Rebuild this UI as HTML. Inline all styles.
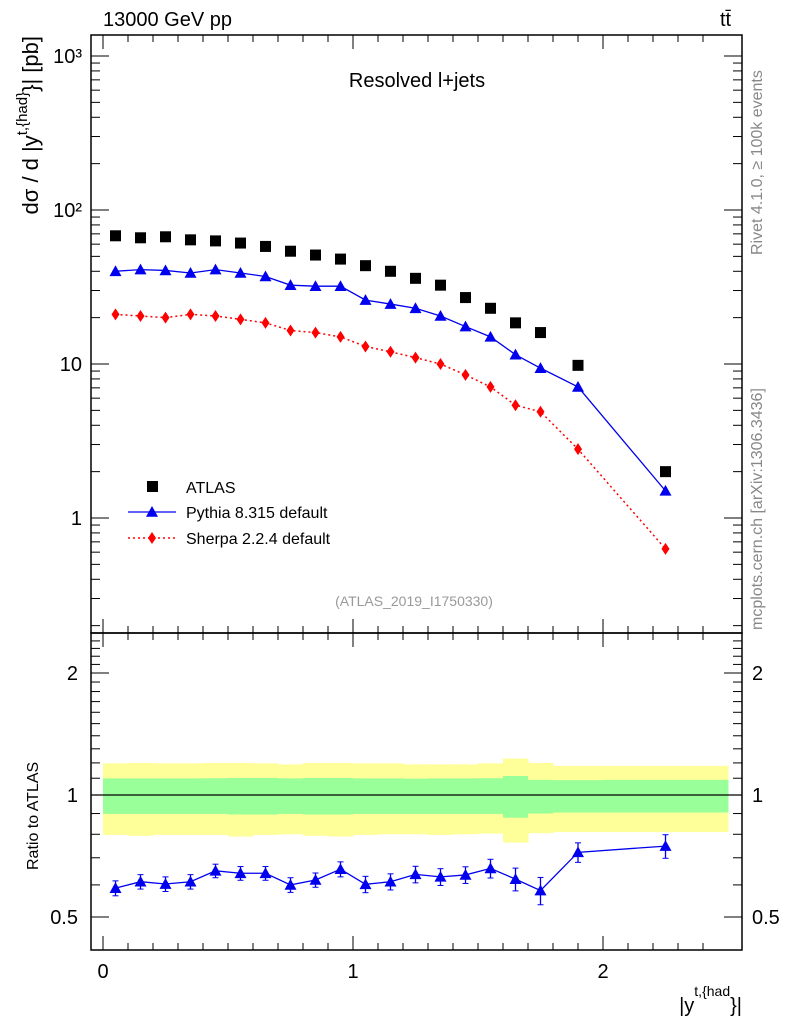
<!DOCTYPE html>
<html><head><meta charset="utf-8"><style>
body{margin:0;background:#fff;}
svg{font-family:"Liberation Sans",sans-serif;}
</style></head><body>
<svg id="c" width="786" height="1024" xmlns="http://www.w3.org/2000/svg"></svg>
<script>
const binLo=[0,0.1,0.2,0.3,0.4,0.5,0.6,0.7,0.8,0.9,1.0,1.1,1.2,1.3,1.4,1.5,1.6,1.7,1.8,2.0];
const binHi=[0.1,0.2,0.3,0.4,0.5,0.6,0.7,0.8,0.9,1.0,1.1,1.2,1.3,1.4,1.5,1.6,1.7,1.8,2.0,2.5];
const atlas=[68,66,67,64,63,61,58,54,51,48,43.5,40,36,32.5,27,23,18.5,16,9.8,2.0];
const pythia=[40,41,40.5,39,41,39,37,32.5,32,32,26,24.5,23,20.5,17.5,15,11.5,9.4,7.1,1.5];
const sherpa=[21,20.5,20,21,20.5,19.5,18.5,16.5,16,15,13,12,11,10,8.5,7.1,5.4,4.9,2.8,0.63];
const ratioP=[0.589,0.611,0.603,0.611,0.650,0.641,0.641,0.600,0.617,0.656,0.602,0.611,0.637,0.628,0.635,0.659,0.620,0.581,0.722,0.748];
const ratioErr=[0.025,0.025,0.025,0.025,0.025,0.025,0.025,0.025,0.025,0.028,0.028,0.028,0.03,0.03,0.03,0.035,0.04,0.045,0.04,0.05];
const greenLo=[0.898,0.898,0.898,0.898,0.898,0.895,0.895,0.898,0.895,0.895,0.898,0.898,0.898,0.898,0.898,0.898,0.879,0.9,0.905,0.905];
const greenHi=[1.099,1.099,1.099,1.099,1.1,1.102,1.102,1.099,1.102,1.102,1.099,1.099,1.097,1.099,1.099,1.1,1.114,1.09,1.088,1.09];
const yelLo=[0.797,0.793,0.797,0.797,0.797,0.79,0.797,0.8,0.793,0.79,0.797,0.8,0.8,0.797,0.8,0.803,0.763,0.805,0.81,0.81];
const yelHi=[1.197,1.2,1.197,1.197,1.2,1.2,1.197,1.19,1.2,1.2,1.197,1.197,1.19,1.19,1.19,1.197,1.23,1.2,1.18,1.18];
const xTicks=[0,1,2];
const mainTicks=[1,10,100,1000];
const mainTickLabels=["1","10","10²","10³"];
const ratioTicks=[0.5,1,2];

const svg=document.getElementById('c');
const NS='http://www.w3.org/2000/svg';
const L=91,R=742,T=35,M=633,B=950;
const X=v=>103+250*v;
const YM=v=>518-154*Math.log10(v);
const YR=v=>795-122*Math.log2(v);
function el(tag,attrs,parent){const e=document.createElementNS(NS,tag);for(const k in attrs)e.setAttribute(k,attrs[k]);(parent||svg).appendChild(e);return e;}
function txt(s,x,y,attrs,parent){const e=el('text',Object.assign({x:x,y:y,'font-size':20},attrs||{}),parent);e.textContent=s;return e;}

const bands=el('g',{});


binLo.forEach((lo,i)=>{
  const y=el('rect',{x:X(lo),y:YR(yelHi[i]),width:X(binHi[i])-X(lo)+0.5,height:YR(yelLo[i])-YR(yelHi[i]),fill:'#ffff99'},bands);
  
  
  const g=el('rect',{x:X(lo),y:YR(greenHi[i]),width:X(binHi[i])-X(lo)+0.5,height:YR(greenLo[i])-YR(greenHi[i]),fill:'#99ff99'},bands);
  
  
});
el('line',{x1:L,x2:R,y1:YR(1),y2:YR(1),stroke:'#000','stroke-width':1.2});

el('rect',{x:L,y:T,width:R-L,height:M-T,fill:'none',stroke:'#000','stroke-width':1.5});
el('rect',{x:L,y:M,width:R-L,height:B-M,fill:'none',stroke:'#000','stroke-width':1.5});

for(let v=0;v<=2.5;v+=0.1){
  const big=Math.abs(v-Math.round(v))<1e-6;const len=big?14:7;
  [T,M].forEach(t=>el('line',{x1:X(v),x2:X(v),y1:t,y2:t+len,stroke:'#000'}));
  [M,B].forEach(b=>el('line',{x1:X(v),x2:X(v),y1:b,y2:b-len,stroke:'#000'}));
}
xTicks.forEach(v=>{const t=txt(String(v),X(v),978,{'text-anchor':'middle'});

});
for(let d=-1;d<=3;d++){for(let m=1;m<10;m++){const v=m*Math.pow(10,d);const y=YM(v);if(y<T||y>M)continue;const len=m==1?18:9;
el('line',{x1:L,x2:L+len,y1:y,y2:y,stroke:'#000'});el('line',{x1:R,x2:R-len,y1:y,y2:y,stroke:'#000'});}}
mainTicks.forEach((v,i)=>{const t=txt(mainTickLabels[i],82,YM(v)+7,{'text-anchor':'end'});

});
for(let v=0.4;v<=2.5;v+=0.1){const y=YR(v);if(y<M||y>B)continue;const big=ratioTicks.some(r=>Math.abs(r-v)<1e-6);const len=big?18:9;
el('line',{x1:L,x2:L+len,y1:y,y2:y,stroke:'#000'});el('line',{x1:R,x2:R-len,y1:y,y2:y,stroke:'#000'});}
ratioTicks.forEach(v=>{const t=txt(String(v),78,YR(v)+7,{'text-anchor':'end'});


const t2=txt(String(v),752,YR(v)+7,{});

});

const cx=i=>X((binLo[i]+binHi[i])/2);
function tri(x,y,s,p){return el('polygon',{points:`${x},${y-s} ${x-s},${y+s*0.8} ${x+s},${y+s*0.8}`,fill:'#0000ee'},p);}
el('polyline',{points:pythia.map((v,i)=>cx(i)+','+YM(v)).join(' '),fill:'none',stroke:'#0000ee','stroke-width':1.3});
el('polyline',{points:sherpa.map((v,i)=>cx(i)+','+YM(v)).join(' '),fill:'none',stroke:'#ff0000','stroke-width':1.5,'stroke-dasharray':'2,3'});
atlas.forEach((v,i)=>{const r=el('rect',{x:cx(i)-5.5,y:YM(v)-5.5,width:11,height:11,fill:'#000'});

});
pythia.forEach((v,i)=>{const p=tri(cx(i),YM(v),6);

});
sherpa.forEach((v,i)=>{const x=cx(i),y=YM(v);const p=el('polygon',{points:`${x},${y-6} ${x+4},${y} ${x},${y+6} ${x-4},${y}`,fill:'#ff0000'});

});
el('polyline',{points:ratioP.map((v,i)=>cx(i)+','+YR(v)).join(' '),fill:'none',stroke:'#0000ee','stroke-width':1.3});
ratioP.forEach((v,i)=>{const x=cx(i);const y1=YR(v+ratioErr[i]),y2=YR(v-ratioErr[i]);
el('line',{x1:x,x2:x,y1:y1,y2:y2,stroke:'#0000ee','stroke-width':1.3});
el('line',{x1:x-3,x2:x+3,y1:y1,y2:y1,stroke:'#0000ee'});el('line',{x1:x-3,x2:x+3,y1:y2,y2:y2,stroke:'#0000ee'});
const p=tri(x,YR(v),6);

});

const lg=el('g',{});


el('rect',{x:147,y:481,width:11,height:11,fill:'#000'},lg);
txt('ATLAS',186,493,{'font-size':16},lg);
el('line',{x1:128,x2:176,y1:512,y2:512,stroke:'#0000ee','stroke-width':1.3},lg);tri(152,512,6,lg);
txt('Pythia 8.315 default',186,518,{'font-size':16},lg);
el('line',{x1:128,x2:176,y1:538,y2:538,stroke:'#ff0000','stroke-width':1.5,'stroke-dasharray':'2,3'},lg);
el('polygon',{points:'152,532 156,538 152,544 148,538',fill:'#ff0000'},lg);
txt('Sherpa 2.2.4 default',186,544,{'font-size':16},lg);

txt('13000 GeV pp',103,26,{'font-size':20});
txt('tt̄',720,26,{'font-size':20});
txt('Resolved l+jets',417,87,{'font-size':20,'text-anchor':'middle'});
txt('(ATLAS_2019_I1750330)',414,606,{'font-size':14,fill:'#999','text-anchor':'middle'});
txt('Rivet 4.1.0, ≥ 100k events',762,255,{'font-size':16,fill:'#888',transform:'rotate(-90 762 255)'});
txt('mcplots.cern.ch [arXiv:1306.3436]',762,630,{'font-size':16,fill:'#888',transform:'rotate(-90 762 630)'});
const yl=el('text',{x:0,y:0,'font-size':22,'text-anchor':'end',transform:'translate(38,36) rotate(-90)'});


yl.innerHTML='dσ / d |y<tspan dy="-11" font-size="15">t,{had}</tspan><tspan dy="11">}| [pb]</tspan>';
const rl=txt('Ratio to ATLAS',38,870,{'font-size':16,transform:'rotate(-90 38 870)'});


const xl=el('text',{x:742,y:1012,'font-size':20,'text-anchor':'end'});


xl.innerHTML='|y<tspan dy="-16" font-size="14">t,{had</tspan><tspan dy="16">}|</tspan>';
</script>
</body></html>
